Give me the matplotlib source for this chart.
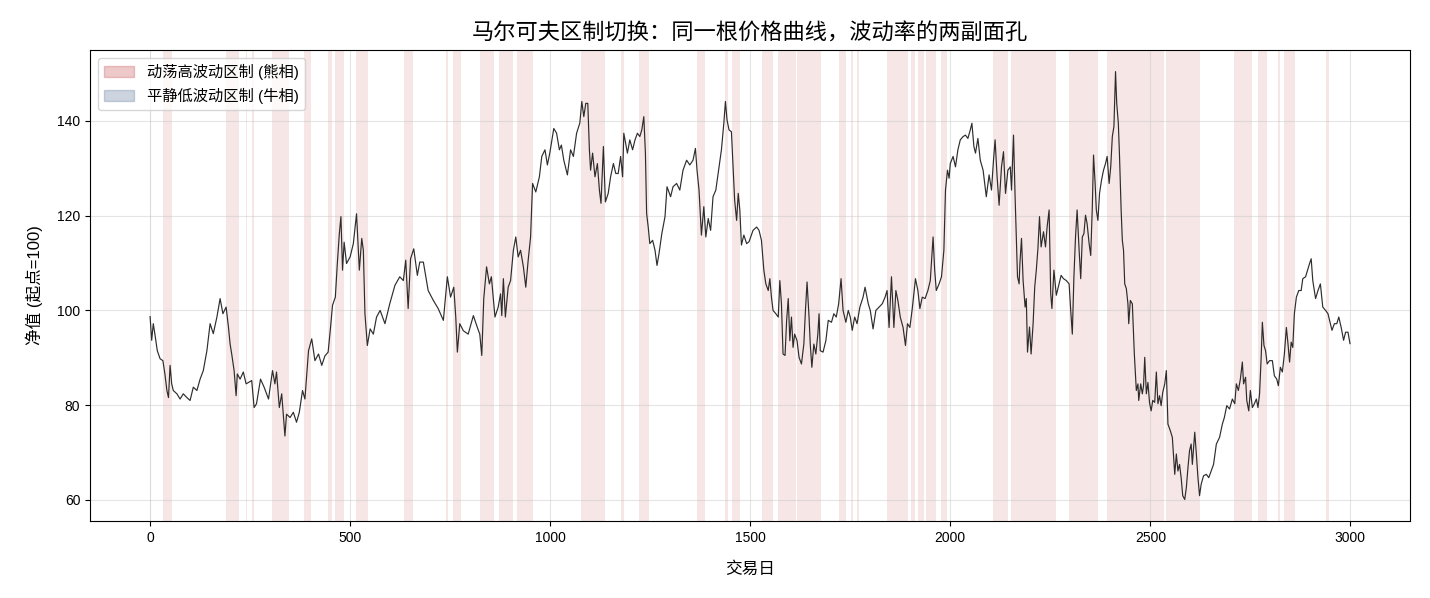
import matplotlib
matplotlib.use('Agg')
import matplotlib.pyplot as plt
from matplotlib.patches import Patch

plt.rcParams['font.family'] = ['Liberation Sans', 'Noto Sans CJK SC', 'DejaVu Sans']
plt.rcParams['axes.unicode_minus'] = False

# Price path (trading day, net value)
days = [0, 4, 8, 12, 18, 25, 32, 37, 42, 46, 50, 54, 58, 67, 75, 83, 92, 100, 108, 117,
        125, 133, 142, 150, 158, 167, 175, 182, 190, 196, 200, 204, 210, 215, 218, 225, 233, 240, 246, 254,
        260, 266, 276, 285, 296, 306, 312, 316, 323, 329, 337, 341, 350, 358, 366, 373, 381, 387, 396, 404,
        412, 421, 429, 437, 445, 451, 456, 463, 468, 473, 477, 481, 485, 491, 498,
        500, 508, 516, 523, 529, 533, 537, 543, 550, 558, 566, 575, 587, 599, 612, 624, 633, 639, 645, 651,
        659, 668, 674, 683, 695, 708, 720, 733, 743, 751, 759, 764, 768, 774, 783, 795, 808, 818, 824, 829,
        834, 841, 848, 853, 862, 870, 876, 879, 883, 888, 895, 901, 908, 914, 920, 926, 933, 939, 945, 951,
        956, 964, 973, 979, 987, 993, 999,
        1009, 1016, 1023, 1028, 1034, 1043, 1051, 1058, 1066, 1074, 1079, 1084, 1089, 1094, 1098, 1101, 1106,
        1112, 1118, 1123, 1127, 1133, 1138, 1145, 1151, 1158, 1164, 1170, 1176, 1181, 1184, 1193, 1199, 1206,
        1212, 1218, 1224, 1229, 1234, 1238, 1241, 1245, 1249, 1256, 1262, 1267, 1272, 1279, 1287, 1292, 1301,
        1307, 1316, 1324, 1332, 1341, 1349, 1357, 1363, 1367, 1372, 1378, 1384, 1389, 1395, 1401, 1407, 1414,
        1422, 1428, 1434, 1438, 1442, 1447, 1453, 1457, 1461, 1466, 1470, 1474, 1478, 1484, 1491, 1497,
        1507, 1516, 1522, 1528, 1534, 1539, 1545, 1549, 1553, 1557, 1564, 1570, 1574, 1578, 1582, 1587, 1591,
        1595, 1599, 1603, 1607, 1611, 1617, 1622, 1628, 1634, 1638, 1642, 1647, 1650, 1654, 1659, 1664, 1669,
        1672, 1675, 1682, 1689, 1695, 1703, 1709, 1715, 1721, 1727, 1732, 1739, 1745, 1750, 1755, 1761, 1767,
        1774, 1782, 1787, 1795, 1800, 1807, 1814, 1822, 1830, 1837, 1842, 1847, 1853, 1859, 1864, 1869, 1875,
        1882, 1888, 1893, 1899, 1905, 1913, 1919, 1924, 1930, 1937, 1944, 1950, 1957, 1961, 1965, 1972, 1978,
        1984, 1988, 1993, 1997,
        2000, 2007, 2013, 2019, 2025, 2032, 2038, 2044, 2050, 2054, 2059, 2063, 2069, 2075, 2082, 2090, 2097,
        2103, 2108, 2112, 2117, 2122, 2128, 2133, 2138, 2144, 2150, 2153, 2158, 2162, 2165, 2168, 2172, 2174,
        2178, 2182, 2187, 2190, 2193, 2198, 2202, 2207, 2211, 2215, 2219, 2223, 2227, 2233, 2238, 2242, 2247,
        2251, 2254, 2259, 2265, 2272, 2277, 2283, 2290, 2297, 2301, 2305, 2309, 2313, 2317, 2322, 2326, 2330,
        2334, 2338, 2342, 2347, 2351, 2355, 2358, 2362, 2365, 2369, 2373, 2378, 2383, 2388, 2392, 2397, 2401,
        2405, 2409, 2413, 2416, 2420, 2423, 2427, 2430, 2433, 2436, 2440, 2444, 2446, 2450, 2455, 2460, 2465,
        2469, 2471, 2476, 2480, 2483, 2486, 2490, 2494, 2498,
        2502, 2506, 2511, 2515, 2519, 2523, 2527, 2531, 2536, 2540, 2544, 2550, 2555, 2561, 2565, 2569, 2573,
        2577, 2581, 2586, 2590, 2594, 2598, 2602, 2605, 2611, 2615, 2619, 2623, 2627, 2633, 2640, 2646, 2652,
        2658, 2665, 2673, 2680, 2685, 2691, 2698, 2705, 2711, 2715, 2720, 2725, 2730, 2733, 2738, 2741, 2746,
        2750, 2755, 2760, 2765, 2769, 2773, 2777, 2780, 2784, 2788, 2792, 2798, 2805, 2810, 2816, 2820, 2825,
        2830, 2835, 2840, 2844, 2848, 2852, 2856, 2860, 2865, 2871, 2877, 2881, 2888, 2894, 2898, 2902, 2906,
        2913, 2919, 2925, 2931, 2938, 2944, 2948, 2954, 2960, 2966, 2971, 2977, 2983, 2988, 2994, 2999]

values = [98.7, 93.7, 97.2, 95.0, 91.5, 89.8, 89.4, 86.6, 83.1, 81.6, 88.4, 84.5, 83.1, 82.4, 81.3, 82.4, 81.6, 81.0, 83.8, 83.1,
          85.5, 87.3, 91.5, 97.2, 95.1, 98.6, 102.5, 99.3, 100.7, 96.4, 92.9, 90.8, 87.3, 82.0, 86.6, 85.5, 87.0, 84.5, 84.8, 85.2,
          79.5, 80.3, 85.5, 83.8, 81.3, 87.3, 84.5, 87.0, 79.5, 82.4, 73.5, 78.1, 77.4, 78.5, 76.4, 78.5, 83.1, 81.3, 91.5, 94.0,
          89.4, 90.8, 88.4, 90.4, 91.2, 96.4, 101.1, 102.8, 109.9, 116.2, 119.8, 108.5, 114.4, 109.9, 111.0,
          111.3, 114.1, 120.4, 108.5, 115.2, 112.7, 99.3, 92.6, 96.1, 95.0, 98.6, 100.0, 97.2, 101.4, 105.3, 107.1, 106.3, 110.6, 100.4, 110.9,
          113.0, 107.4, 110.2, 110.2, 104.2, 102.1, 100.4, 97.9, 107.1, 102.8, 104.9, 98.6, 91.2, 97.2, 95.7, 95.0, 98.9, 96.4, 95.0, 90.5,
          102.5, 109.2, 105.6, 107.1, 98.6, 100.7, 103.5, 98.9, 106.7, 98.6, 104.9, 106.3, 112.7, 115.5, 111.3, 112.7, 109.2, 104.9, 110.6, 115.5,
          126.8, 125.0, 128.2, 132.5, 133.9, 130.7, 133.2,
          138.4, 137.4, 133.9, 134.9, 131.7, 128.6, 133.9, 132.5, 137.4, 139.5, 144.1, 140.9, 143.7, 143.7, 133.9, 129.6, 133.2,
          128.2, 131.0, 125.4, 122.6, 134.6, 122.9, 124.7, 128.2, 131.0, 128.9, 128.9, 132.5, 128.2, 137.4, 133.2, 136.0, 133.9,
          136.0, 137.4, 136.7, 138.1, 140.9, 133.2, 120.5, 117.6, 114.1, 114.8, 112.7, 109.5, 112.0, 116.2, 119.8, 126.1, 124.0,
          126.1, 126.8, 125.4, 129.6, 131.7, 130.7, 131.7, 134.2, 129.6, 125.4, 115.9, 121.9, 115.5, 119.4, 116.9, 124.0, 125.4,
          130.3, 133.9, 139.5, 144.1, 140.2, 138.1, 137.7, 130.3, 123.3, 119.0, 124.7, 121.2, 113.8, 115.9, 114.1, 114.5,
          116.9, 117.6, 116.9, 114.8, 108.5, 105.6, 104.2, 106.7, 102.8, 100.0, 99.3, 98.6, 106.3, 101.4, 90.8, 90.5, 97.9,
          102.5, 93.6, 98.6, 92.2, 95.0, 93.6, 90.1, 88.7, 92.9, 100.0, 106.0, 98.6, 92.9, 88.0, 92.9, 90.8, 95.0,
          99.3, 91.5, 91.2, 93.6, 97.9, 97.5, 99.3, 98.6, 101.4, 106.7, 100.0, 97.5, 100.0, 98.6, 95.8, 98.6, 97.2,
          100.7, 102.8, 104.9, 101.4, 100.0, 96.1, 100.0, 100.7, 101.4, 102.8, 104.2, 96.4, 107.1, 96.4, 104.2, 102.1, 98.6,
          96.4, 92.6, 97.2, 96.4, 100.4, 106.7, 104.2, 100.4, 102.8, 102.5, 104.2, 106.3, 115.5, 108.5, 104.2, 105.6, 107.1,
          112.7, 125.4, 129.6, 127.9,
          131.0, 132.5, 130.3, 133.9, 136.0, 136.7, 137.0, 136.3, 138.1, 139.5, 134.6, 133.2, 136.3, 131.7, 129.6, 124.0, 128.6,
          125.4, 131.7, 136.0, 128.2, 122.2, 130.3, 133.5, 124.7, 129.6, 130.3, 125.4, 137.0, 124.0, 115.5, 107.1, 105.6, 109.9,
          115.2, 106.3, 100.7, 102.5, 91.2, 96.5, 90.8, 97.2, 104.9, 108.5, 113.0, 119.8, 113.4, 116.6, 113.4, 117.6, 121.2,
          103.5, 100.4, 108.5, 103.2, 105.6, 107.4, 106.7, 106.3, 105.6, 100.0, 95.0, 107.1, 115.5, 121.2, 112.7, 106.7, 115.5,
          116.2, 120.1, 118.3, 114.1, 111.6, 121.9, 132.8, 126.8, 121.2, 119.0, 124.7, 127.5, 129.6, 131.0, 132.5, 126.8, 130.3,
          136.7, 138.8, 150.4, 143.7, 139.5, 132.5, 121.2, 114.8, 112.7, 105.6, 104.6, 101.4, 97.2, 102.1, 101.4, 90.8, 83.1,
          84.5, 81.0, 84.5, 82.4, 84.1, 90.1, 82.4, 84.8, 80.5,
          78.8, 81.0, 80.6, 87.0, 80.3, 82.0, 79.9, 82.7, 84.5, 87.3, 76.0, 74.6, 73.2, 65.4, 69.7, 66.1, 67.5,
          64.7, 60.9, 60.1, 62.6, 66.8, 70.4, 71.8, 67.5, 74.3, 69.7, 64.7, 60.9, 63.3, 65.1, 65.4, 64.7, 66.1,
          67.5, 71.8, 73.2, 76.0, 77.4, 79.9, 79.2, 81.3, 80.3, 84.5, 83.1, 85.5, 89.1, 84.5, 85.9, 81.0, 78.8,
          83.1, 79.5, 80.3, 81.3, 79.5, 82.4, 90.1, 97.5, 92.6, 91.5, 88.7, 89.4, 89.4, 86.2, 85.5, 84.1, 88.0,
          87.0, 90.8, 96.4, 93.0, 89.1, 93.3, 92.2, 99.3, 102.8, 104.2, 104.2, 106.7, 107.1, 108.8, 109.9, 110.9, 106.3,
          102.5, 104.2, 105.6, 100.7, 100.0, 99.3, 97.9, 95.8, 97.2, 97.2, 98.6, 96.4, 93.7, 95.4, 95.4, 93.0]

# High-volatility regime spans (start day, end day)
band_start = [0, 32, 190, 240, 255, 305, 385, 445, 462, 515, 635, 740, 756, 824, 872, 917,
              1078, 1177, 1222, 1366, 1436, 1454, 1529, 1569, 1616, 1721, 1751, 1766, 1841, 1901,
              1919, 1939, 1977, 2107, 2151, 2296, 2391, 2538, 2708, 2768, 2818, 2833, 2940]
band_end = [3, 55, 222, 243, 260, 347, 402, 455, 485, 545, 657, 744, 777, 859, 906, 956,
            1136, 1185, 1248, 1388, 1444, 1474, 1558, 1614, 1676, 1739, 1758, 1773, 1894, 1911,
            1935, 1965, 1993, 2145, 2263, 2370, 2533, 2625, 2755, 2792, 2825, 2862, 2947]

bear_color = '#c44e52'
bull_color = '#5b7095'

fig, ax = plt.subplots(figsize=(14.3, 5.98), dpi=100)
fig.subplots_adjust(left=0.063, right=0.986, top=0.916, bottom=0.129)

for s, e in zip(band_start, band_end):
    ax.axvspan(s, e, color=bear_color, alpha=0.14, lw=0)

ax.plot(days, values, color='#222222', lw=0.85, alpha=0.95)

ax.set_title('马尔可夫区制切换：同一根价格曲线，波动率的两副面孔', fontsize=16, pad=8)
ax.set_xlabel('交易日', fontsize=12, labelpad=12)
ax.set_ylabel('净值 (起点=100)', fontsize=12, labelpad=10)
ax.grid(True, color='#cccccc', alpha=0.5, lw=0.8)
ax.tick_params(labelsize=10)

handles = [Patch(facecolor=bear_color, edgecolor=bear_color, alpha=0.3, label='动荡高波动区制 (熊相)'),
           Patch(facecolor=bull_color, edgecolor=bull_color, alpha=0.3, label='平静低波动区制 (牛相)')]
ax.legend(handles=handles, loc='upper left', fontsize=11)

fig.savefig('out.png', dpi=100)
